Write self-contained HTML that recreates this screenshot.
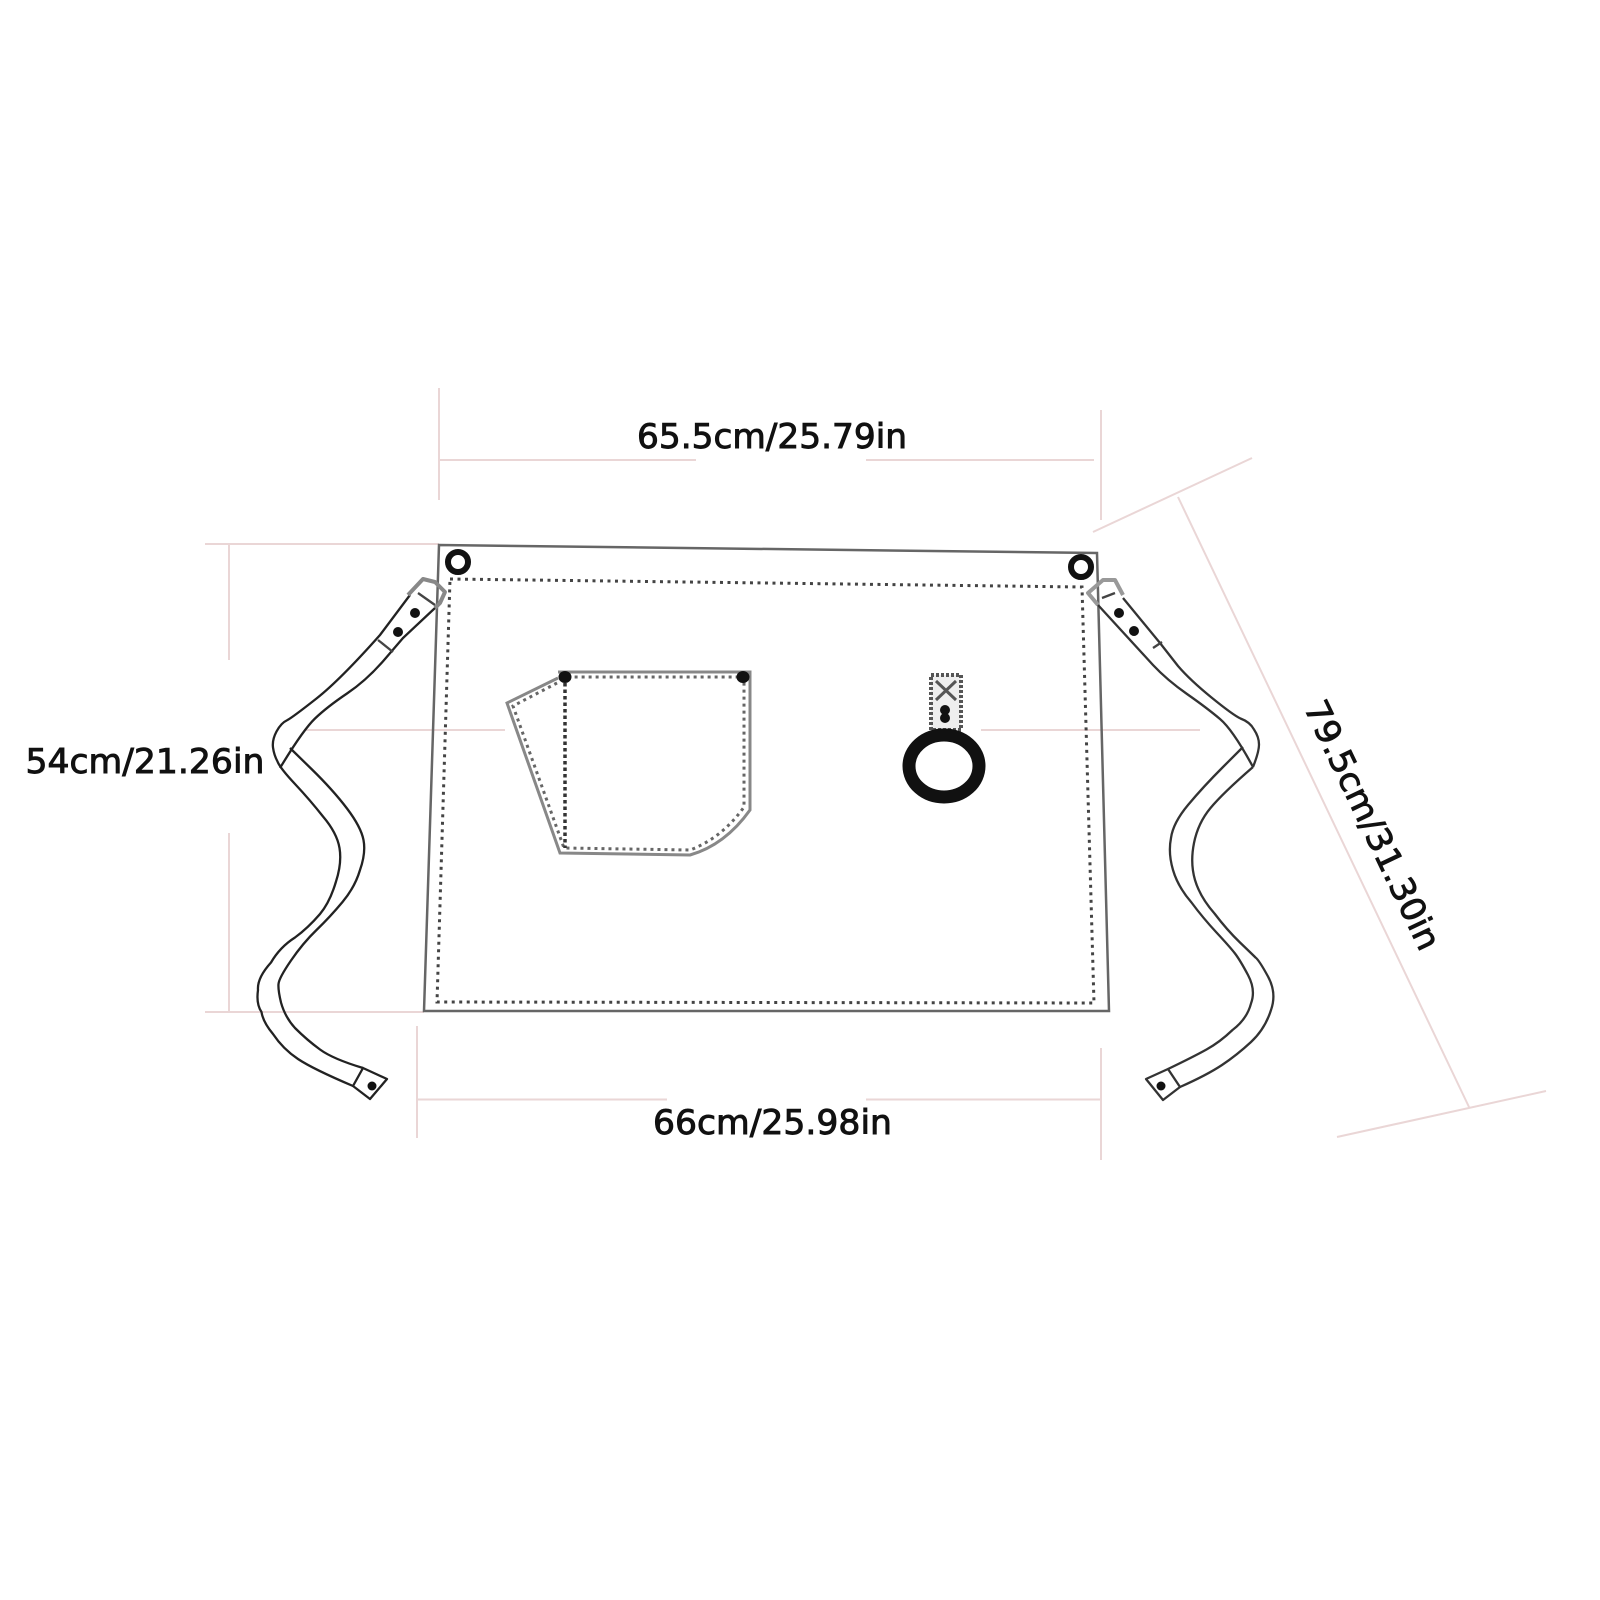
<!DOCTYPE html>
<html><head><meta charset="utf-8"><style>
html,body{margin:0;padding:0;background:#fff}
svg{display:block}
text{font-family:"DejaVu Sans",sans-serif;font-size:33.5px;fill:#111;stroke:#111;stroke-width:.9px}
</style></head><body>
<svg width="1600" height="1600" viewBox="0 0 1600 1600" xmlns="http://www.w3.org/2000/svg">
<rect width="1600" height="1600" fill="#fff"/>
<!-- dimension lines -->
<g stroke="#ead6d6" stroke-width="2" fill="none">
<path d="M439 388V500M1101 410V520M440 460H696M866 460H1094"/>
<path d="M205 544H439M229 544V660M229 833V1012M205 1012H424M306 730H505M981 730H1200"/>
<path d="M417 1026V1138M1101 1048V1160M418 1099.5H667M866 1099.5H1101"/>
<path d="M1093 532L1252 458M1178 497L1469 1107M1337 1137L1546 1091"/>
</g>
<!-- apron -->
<path d="M439 545L1097 553L1109 1011L424 1011Z" fill="none" stroke="#666" stroke-width="2.5"/>
<path d="M450 579L1082 587L1094 1003L437 1002Z" fill="none" stroke="#444" stroke-width="3" stroke-dasharray="3 4.5"/>
<circle cx="458" cy="562" r="10" fill="#fff" stroke="#111" stroke-width="6"/>
<circle cx="1081" cy="567" r="10" fill="#fff" stroke="#111" stroke-width="6"/>
<!-- pocket -->
<path d="M558 678L507 703L560 853L690 855Q725 845 750 810L750 672L558 672" fill="none" stroke="#888" stroke-width="3"/>
<path d="M557 683L513 706L564 848L690 850Q722 838 744 807L744 677L565 677" fill="none" stroke="#666" stroke-width="3" stroke-dasharray="3 4"/>
<path d="M565 683V848" fill="none" stroke="#333" stroke-width="3.5" stroke-dasharray="3.5 3"/>
<ellipse cx="565" cy="677" rx="6.5" ry="6" fill="#111"/>
<ellipse cx="743" cy="677" rx="6.5" ry="6" fill="#111"/>
<!-- loop -->
<rect x="931" y="675" width="30" height="55" fill="#eee" stroke="#555" stroke-width="4" stroke-dasharray="3 2"/>
<path d="M936 681L956 700M956 681L936 700" stroke="#555" stroke-width="3"/>
<circle cx="945" cy="710" r="5" fill="#111"/><circle cx="945" cy="718" r="5" fill="#111"/>
<ellipse cx="944" cy="766" rx="35" ry="31" fill="#fff" stroke="#111" stroke-width="13"/>
<!-- left strap -->
<g fill="none" stroke="#222" stroke-width="2.3" stroke-linejoin="round">
<path d="M410 595L380 635Q340 680 316.5 698.5Q293 717 287.5 720Q281 723 276.5 731.5Q272 740 273 747.5Q274 755 277.5 761.5Q280 768 295 784Q310 800 323 816.5Q337 833 339.5 848Q342 863 336 881.5Q330 902 320 914Q308 928 295 937.5Q280 947 271 962.5Q257 978 258 990Q256 1004 261.5 1012Q263 1022 273 1034Q283 1049 298 1059Q313 1069 353 1086"/>
<path d="M435 608L403 638L385 659Q367 680 347 693.5Q327 707 315 718.5Q303 730 280 768"/>
<path d="M290 748L311.5 769Q333 790 347 808.5Q361 827 363.5 840Q366 853 360 870Q355 887 342.5 902Q330 917 316.5 930Q303 943 291 960.5Q279 978 278.5 984Q278 990 281 1002.5Q285 1017 295 1028Q307 1040 320 1049.5Q333 1059 363 1068"/>
<path d="M353 1086L363 1068L387 1079L370 1099Z"/>
<path d="M418 593L435 605M378 640L393 652" stroke="#444"/>
<path d="M408 595L423 579L435 582L445 592L440 603L435 608" stroke="#888" stroke-width="4"/>
</g>
<circle cx="415" cy="613" r="5" fill="#111"/><circle cx="398" cy="632" r="5" fill="#111"/><circle cx="372" cy="1086" r="4.5" fill="#111"/>
<!-- right strap -->
<g fill="none" stroke="#333" stroke-width="2.3" stroke-linejoin="round">
<path d="M1098 605L1153 665Q1167 680 1187 694Q1207 708 1220 719Q1233 730 1253 767"/>
<path d="M1123 598L1160 643L1178 666Q1190 680 1211.5 697.5Q1233 715 1240.5 718.5Q1250 722 1254 729.5Q1259 737 1259 744.5Q1259 752 1253 767"/>
<path d="M1243 747L1223 767Q1203 787 1188 805Q1173 823 1171 838Q1168 853 1173 870Q1178 887 1191.5 902.5Q1203 918 1216.5 932.5Q1230 947 1235 953.5Q1240 960 1248 975Q1256 990 1251 1003.5Q1247 1019 1232.5 1030Q1220 1042 1206.5 1049.5Q1193 1057 1168 1069"/>
<path d="M1253 767Q1223 793 1210.5 808Q1198 823 1194 843Q1190 863 1195 880Q1200 897 1214.5 913.5Q1227 930 1240 942.5Q1253 955 1255.5 957.5Q1259 960 1268 976.5Q1277 993 1271 1010Q1265 1029 1251 1042Q1237 1055 1222 1065Q1207 1075 1180 1087"/>
<path d="M1168 1069L1146 1079L1163 1100L1180 1087Z"/>
<path d="M1102 598L1115 593M1153 648L1162 642" stroke="#444"/>
<path d="M1098 605L1088 593L1103 580L1115 580L1123 595" stroke="#999" stroke-width="4"/>
</g>
<circle cx="1119" cy="613" r="5" fill="#111"/><circle cx="1134" cy="631" r="5" fill="#111"/><circle cx="1161" cy="1086" r="4.5" fill="#111"/>
<!-- labels -->
<text x="637" y="448" textLength="270" lengthAdjust="spacingAndGlyphs">65.5cm/25.79in</text>
<text x="25.5" y="773" textLength="239" lengthAdjust="spacingAndGlyphs">54cm/21.26in</text>
<text x="653" y="1134" textLength="239" lengthAdjust="spacingAndGlyphs">66cm/25.98in</text>
<text transform="translate(1362 830) rotate(64.5)" text-anchor="middle" textLength="272" lengthAdjust="spacingAndGlyphs">79.5cm/31.30in</text>
</svg>
</body></html>
